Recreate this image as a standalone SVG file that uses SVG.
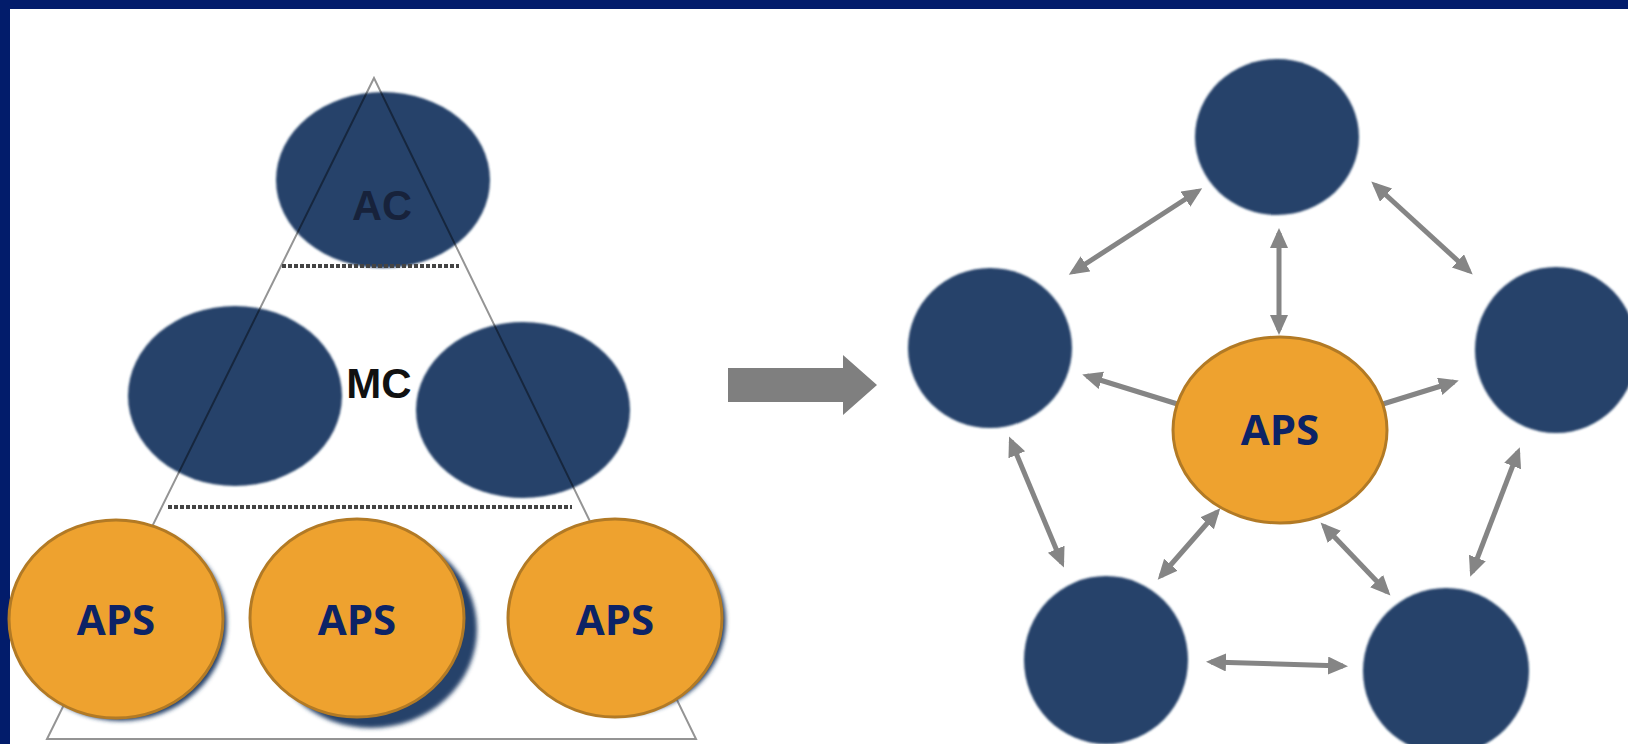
<svg xmlns="http://www.w3.org/2000/svg" width="1628" height="744" viewBox="0 0 1628 744">
  <style>
    .blue { fill: #25426a; }
    .aps { fill: #eea22f; stroke: #b27a25; stroke-width: 3; }
    .apsText { font-family: "Open Sans", "Liberation Sans", sans-serif; font-weight: 700; font-size: 42px; fill: #0c2366; text-anchor: middle; }
    .lbl { font-family: "Liberation Sans", Arial, sans-serif; font-weight: 700; font-size: 42px; text-anchor: middle; }
    .tri { fill: none; stroke: #000; stroke-opacity: 0.42; stroke-width: 2; }
    .dots { stroke: #444; stroke-width: 4; stroke-dasharray: 4 2; }
    .conn { stroke: #858585; stroke-width: 5; fill: none; }
  </style>
  <defs>
    <marker id="ah" markerUnits="userSpaceOnUse" markerWidth="22" markerHeight="20" refX="15" refY="9" orient="auto-start-reverse" viewBox="0 0 22 20">
      <path d="M0,0 L20,9 L0,18 z" fill="#858585"/>
    </marker>
    <filter id="soft" x="-20%" y="-20%" width="140%" height="140%">
      <feGaussianBlur stdDeviation="2"/>
    </filter>
    <filter id="edge" x="-10%" y="-10%" width="120%" height="120%">
      <feGaussianBlur stdDeviation="0.8"/>
    </filter>
  </defs>

  <!-- frame -->
  <rect x="0" y="0" width="1628" height="744" fill="#021c6b"/>
  <rect x="10" y="9" width="1618" height="735" fill="#ffffff"/>

  <!-- left hierarchy -->
  <g id="ac-node">
    <ellipse class="blue" cx="383" cy="180" rx="107" ry="88" filter="url(#edge)"/>
  </g>
  <g id="mc-left">
    <ellipse class="blue" cx="235" cy="396" rx="107" ry="90" filter="url(#edge)"/>
  </g>
  <g id="mc-right">
    <ellipse class="blue" cx="523" cy="410" rx="107" ry="88" filter="url(#edge)"/>
  </g>
  <g id="pyramid">
    <polygon class="tri" points="374,78 47,739 696,739"/>
    <line class="dots" x1="282" y1="266" x2="459" y2="266"/>
    <line class="dots" x1="168" y1="507" x2="572" y2="507"/>
  </g>
  <g id="labels">
    <text class="lbl" x="382" y="220" fill="#17223b" textLength="60" lengthAdjust="spacingAndGlyphs">AC</text>
    <text class="lbl" x="379" y="398" fill="#111111">MC</text>
  </g>
  <g id="aps-left-1">
    <ellipse class="blue" cx="121" cy="623" rx="106" ry="98" filter="url(#soft)"/>
    <ellipse class="aps" cx="116" cy="619" rx="107" ry="99"/>
    <text class="apsText" x="116" y="635">APS</text>
  </g>
  <g id="aps-left-2">
    <ellipse class="blue" cx="371" cy="629" rx="106" ry="99" filter="url(#soft)"/>
    <ellipse class="aps" cx="357" cy="618" rx="107" ry="99"/>
    <text class="apsText" x="357" y="635">APS</text>
  </g>
  <g id="aps-left-3">
    <ellipse class="blue" cx="621" cy="621" rx="105" ry="94" filter="url(#soft)"/>
    <ellipse class="aps" cx="615" cy="618" rx="107" ry="99"/>
    <text class="apsText" x="615" y="635">APS</text>
  </g>

  <!-- big transition arrow -->
  <g id="transition-arrow">
    <polygon points="728,368 843,368 843,355 877,385 843,415 843,402 728,402" fill="#7f7f7f"/>
  </g>

  <!-- right network nodes -->
  <g id="net-top">
    <ellipse class="blue" cx="1277" cy="137" rx="82" ry="78" filter="url(#edge)"/>
  </g>
  <g id="net-left">
    <ellipse class="blue" cx="990" cy="348" rx="82" ry="80" filter="url(#edge)"/>
  </g>
  <g id="net-right">
    <ellipse class="blue" cx="1556" cy="350" rx="81" ry="83" filter="url(#edge)"/>
  </g>
  <g id="net-bottom-left">
    <ellipse class="blue" cx="1106" cy="660" rx="82" ry="84" filter="url(#edge)"/>
  </g>
  <g id="net-bottom-right">
    <ellipse class="blue" cx="1446" cy="671" rx="83" ry="83" filter="url(#edge)"/>
  </g>

  <!-- connectors -->
  <g id="connectors">
    <line class="conn" x1="1073" y1="272" x2="1198" y2="191" marker-start="url(#ah)" marker-end="url(#ah)"/>
    <line class="conn" x1="1279" y1="233" x2="1279" y2="330" marker-start="url(#ah)" marker-end="url(#ah)"/>
    <line class="conn" x1="1375" y1="185" x2="1469" y2="271" marker-start="url(#ah)" marker-end="url(#ah)"/>
    <line class="conn" x1="1087" y1="376" x2="1200" y2="411" marker-start="url(#ah)"/>
    <line class="conn" x1="1370" y1="408" x2="1454" y2="382" marker-end="url(#ah)"/>
    <line class="conn" x1="1011" y1="441" x2="1062" y2="563" marker-start="url(#ah)" marker-end="url(#ah)"/>
    <line class="conn" x1="1217" y1="512" x2="1161" y2="576" marker-start="url(#ah)" marker-end="url(#ah)"/>
    <line class="conn" x1="1324" y1="526" x2="1387" y2="592" marker-start="url(#ah)" marker-end="url(#ah)"/>
    <line class="conn" x1="1518" y1="452" x2="1472" y2="572" marker-start="url(#ah)" marker-end="url(#ah)"/>
    <line class="conn" x1="1211" y1="662" x2="1343" y2="666" marker-start="url(#ah)" marker-end="url(#ah)"/>
  </g>

  <g id="net-center-aps">
    <ellipse class="aps" cx="1280" cy="430" rx="107" ry="93"/>
    <text class="apsText" x="1280" y="445">APS</text>
  </g>
</svg>
